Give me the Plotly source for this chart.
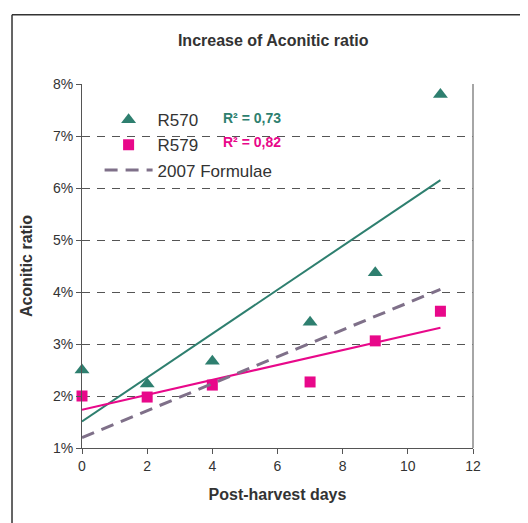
import numpy as np
import plotly.graph_objects as go

# data (ratio in %)
days = [0, 2, 4, 7, 9, 11]
r570 = [2.50, 2.23, 2.67, 3.42, 4.37, 7.80]
r579 = [2.00, 1.98, 2.21, 2.27, 3.06, 3.63]
formula_days = [0, 11]
formula_vals = [1.20, 4.05]

teal = "#2E7F6F"
pink = "#E8088A"
grey = "#7F7089"
font = "Liberation Sans, Arial, sans-serif"

# linear trendlines (like Excel)
def trend(x, y):
    a, b = np.polyfit(x, y, 1)
    xs = np.array([min(x), max(x)])
    return xs, a * xs + b

fig = go.Figure()

tx, ty = trend(days, r570)
fig.add_trace(go.Scatter(x=tx, y=ty, mode="lines", line=dict(color=teal, width=2),
                         showlegend=False, hoverinfo="skip"))
tx, ty = trend(days, r579)
fig.add_trace(go.Scatter(x=tx, y=ty, mode="lines", line=dict(color=pink, width=2),
                         showlegend=False, hoverinfo="skip"))

fig.add_trace(go.Scatter(x=days, y=r570, mode="markers", name="R570", cliponaxis=False,
                         marker=dict(symbol="triangle-up", size=13, color=teal)))
fig.add_trace(go.Scatter(x=days, y=r579, mode="markers", name="R579", cliponaxis=False,
                         marker=dict(symbol="square", size=11, color=pink)))
fig.add_trace(go.Scatter(x=formula_days, y=formula_vals, mode="lines", name="2007 Formulae",
                         line=dict(color=grey, width=3, dash="13px,8px")))

# page has an 8px body margin, so the figure is a bit smaller than the window
fig.update_layout(
    width=520, height=515,
    margin=dict(l=74, r=55, t=76, b=75),
    paper_bgcolor="white", plot_bgcolor="white",
    font=dict(family=font, color="#333333", size=14),
    title=dict(text="<b>Increase of Aconitic ratio</b>", x=0.51, xanchor="center",
               y=0.937, yanchor="middle", font=dict(size=16, color="#333333")),
    legend=dict(x=0.045, y=0.95, xanchor="left", yanchor="top", bgcolor="rgba(0,0,0,0)",
                font=dict(size=17, color="#333333"), itemwidth=48, tracegroupgap=0),
    showlegend=True,
)
fig.add_annotation(x=0.355, y=0.907, xref="paper", yref="paper", xanchor="left",
                   yanchor="middle", text="<b>R² = 0,73</b>", showarrow=False,
                   font=dict(color=teal, size=14))
fig.add_annotation(x=0.355, y=0.841, xref="paper", yref="paper", xanchor="left",
                   yanchor="middle", text="<b>R² = 0,82</b>", showarrow=False,
                   font=dict(color=pink, size=14))

fig.update_xaxes(range=[0, 12], dtick=2, showline=True, linecolor="#555555", linewidth=1,
                 ticks="outside", ticklen=5, tickcolor="#555555",
                 showgrid=False, zeroline=False,
                 title=dict(text="<b>Post-harvest days</b>", font=dict(size=16), standoff=16))
fig.update_yaxes(range=[1, 8], dtick=1, ticksuffix="%", showline=True, linecolor="#555555",
                 linewidth=1, ticks="outside", ticklen=5, tickcolor="#555555",
                 showgrid=True, gridcolor="#555555", griddash="8px,7px", gridwidth=1,
                 zeroline=False,
                 title=dict(text="<b>Aconitic ratio</b>", font=dict(size=16), standoff=16))

# white box behind the legend and R² labels (hides the gridlines there)
fig.add_shape(type="rect", xref="paper", yref="paper", x0=0.033, x1=0.517, y0=0.728, y1=0.956,
              fillcolor="white", line=dict(width=0), layer="between")
# right border of the plot area
fig.add_shape(type="line", xref="x domain", yref="y domain", x0=1, x1=1, y0=0, y1=1,
              line=dict(color="#888888", width=1.5))
# outer chart frame: only its left and top edges are in view
fig.add_shape(type="line", xref="paper", yref="paper", x0=-0.179, x1=-0.179, y0=-0.3, y1=1.19,
              line=dict(color="#333333", width=1.5))
fig.add_shape(type="line", xref="paper", yref="paper", x0=-0.179, x1=1.3, y0=1.19, y1=1.19,
              line=dict(color="#333333", width=1.5))

fig.write_html("out.html")
